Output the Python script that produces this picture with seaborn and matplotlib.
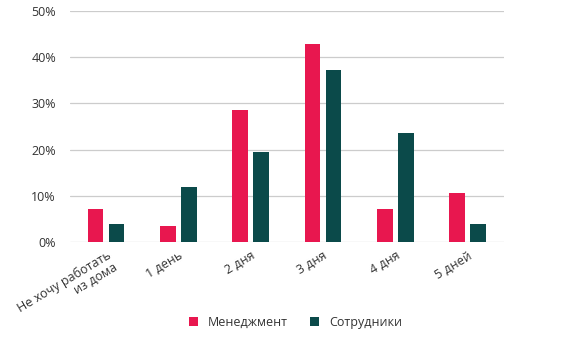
import matplotlib
matplotlib.use("Agg")
import matplotlib.pyplot as plt
import seaborn as sns
import pandas as pd
from matplotlib.ticker import PercentFormatter

# survey data (percent)
categories = ["Не хочу работать\nиз дома", "1 день", "2 дня", "3 дня", "4 дня", "5 дней"]
management = [7.1, 3.6, 28.6, 42.9, 7.1, 10.7]
employees = [4.0, 11.9, 19.6, 37.3, 23.5, 3.9]
series_names = ["Менеджмент", "Сотрудники"]
colors = ["#E8174F", "#0B4A4A"]

df = pd.DataFrame({
    "cat": categories * 2,
    "val": management + employees,
    "group": [series_names[0]] * len(categories) + [series_names[1]] * len(categories),
})

sns.set_style("white")
plt.rcParams["font.family"] = ["Open Sans", "DejaVu Sans"]

fig = plt.figure(figsize=(5.68, 3.62), dpi=100)
ax = fig.add_axes([0.123, 0.331, 0.764, 0.639])

sns.barplot(data=df, x="cat", y="val", hue="group", palette=colors, saturation=1,
            width=0.58, gap=0.25, ax=ax, legend=True, edgecolor="none")

ax.set_ylim(0, 50)
ax.set_xlim(-0.5, 5.5)
ax.set_yticks([0, 10, 20, 30, 40, 50])
ax.yaxis.set_major_formatter(PercentFormatter(decimals=0))
ax.grid(axis="y", color="#cccccc", linewidth=0.9)
ax.set_axisbelow(True)
for s in ax.spines.values():
    s.set_visible(False)
ax.set_xlabel("")
ax.set_ylabel("")
ax.tick_params(axis="both", length=0, labelsize=9, colors="#333333")
ax.tick_params(axis="y", pad=10)
ax.tick_params(axis="x", pad=5)
plt.setp(ax.get_xticklabels(), rotation=31, ha="right", rotation_mode="anchor",
         multialignment="right", linespacing=1.0)

handles, labels = ax.get_legend_handles_labels()
ax.legend_.remove()
fig.legend(handles, labels, loc="center", bbox_to_anchor=(0.52, 0.11), ncol=2,
           frameon=False, fontsize=9, handlelength=0.7, handleheight=0.7,
           columnspacing=1.8, labelcolor="#333333")

fig.savefig("out.png", dpi=100)
